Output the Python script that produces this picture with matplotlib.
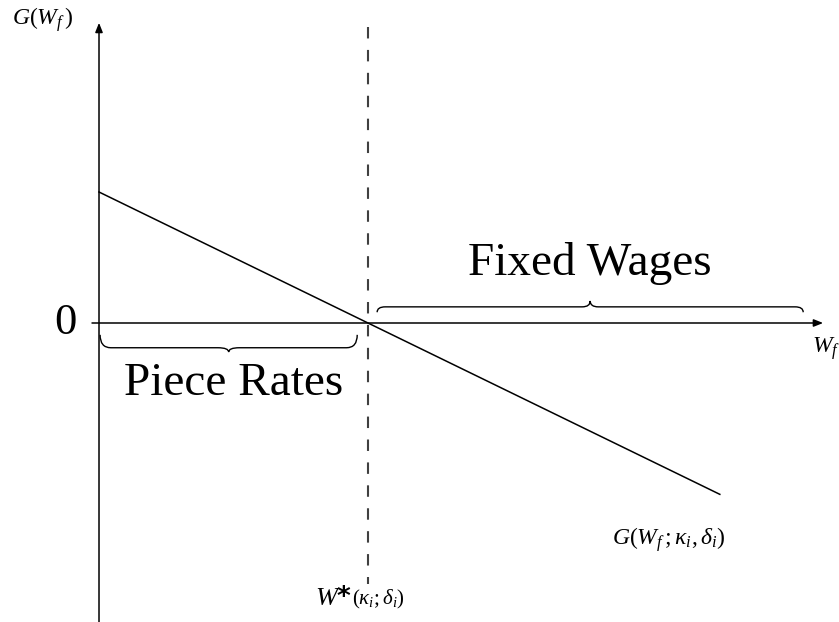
import matplotlib
matplotlib.use("Agg")
import matplotlib.pyplot as plt
from matplotlib.path import Path
from matplotlib.patches import PathPatch
import numpy as np

plt.rcParams["mathtext.fontset"] = "custom"
plt.rcParams["mathtext.rm"] = "Liberation Serif"
plt.rcParams["mathtext.it"] = "Liberation Serif:italic"
plt.rcParams["mathtext.bf"] = "Liberation Serif:bold"
plt.rcParams["font.family"] = "Liberation Serif"

# Threshold wage and the linear gain function G(W_f)
w_star = 5.0
g_x = [0.0, 11.54]
g_y = [2.435, -3.185]

# Axis extents
x_axis = [-0.13, 13.46]
y_axis = [-5.7, 5.58]
dash_y = [5.50, -4.85]

# Brace spans
piece_span = [0.02, 4.80]
fixed_span = [5.17, 13.09]

fig = plt.figure(figsize=(8.39, 6.22), dpi=100)
ax = fig.add_axes([0, 0, 1, 1])
ax.set_xlim(-1.840, 13.755)
ax.set_ylim(-5.558, 6.004)
ax.set_aspect("equal")
ax.axis("off")

arrow = dict(arrowstyle="-|>,head_length=0.55,head_width=0.22", color="black",
             lw=1.1, shrinkA=0, shrinkB=0)
ax.annotate("", xy=(x_axis[1], 0), xytext=(x_axis[0], 0), arrowprops=arrow)
ax.annotate("", xy=(0, y_axis[1]), xytext=(0, y_axis[0]), arrowprops=arrow)

ax.plot([w_star, w_star], dash_y, color="#404040", lw=1.5,
        dashes=(5.5, 5.5), solid_capstyle="butt")
ax.plot(g_x, g_y, color="black", lw=1.1)


def brace(x0, x1, y0, h_end, h_tip, r, sign):
    xm = 0.5 * (x0 + x1)
    yb = y0 + sign * h_end
    yt = y0 + sign * (h_end + h_tip)
    verts = [(x0, y0), (x0, yb), (x0 + r, yb),
             (xm - r, yb), (xm, yb), (xm, yt),
             (xm, yb), (xm + r, yb),
             (x1 - r, yb), (x1, yb), (x1, y0)]
    codes = [Path.MOVETO, Path.CURVE3, Path.CURVE3,
             Path.LINETO, Path.CURVE3, Path.CURVE3,
             Path.CURVE3, Path.CURVE3,
             Path.LINETO, Path.CURVE3, Path.CURVE3]
    ax.add_patch(PathPatch(Path(verts, codes), fill=False, lw=1.0, color="black"))


brace(piece_span[0], piece_span[1], -0.22, 0.24, 0.08, 0.2, -1)
brace(fixed_span[0], fixed_span[1], 0.20, 0.10, 0.11, 0.15, 1)

ax.text(-0.63, 0, "0", fontsize=32, ha="center", va="center")
ax.text(9.13, 0.89, "Fixed Wages", fontsize=34, ha="center", va="baseline")
ax.text(2.51, -1.34, "Piece Rates", fontsize=34, ha="center", va="baseline")

ax.text(-1.62, 5.54, r"$G(W_f\,)$", fontsize=17, ha="left", va="baseline")
ax.text(13.25, -0.56, r"$W_f$", fontsize=17, ha="left", va="baseline")
ax.text(4.01, -5.24, r"$W$*", fontsize=19, ha="left", va="baseline",
        family="DejaVu Sans", fontweight="bold")
ax.text(4.70, -5.24, r"$(\kappa_i;\delta_i)$", fontsize=15, ha="left", va="baseline")
ax.text(9.54, -4.13, r"$G(W_f\,;\kappa_i,\delta_i)$", fontsize=17, ha="left", va="baseline")

fig.savefig("out.png", dpi=100)
